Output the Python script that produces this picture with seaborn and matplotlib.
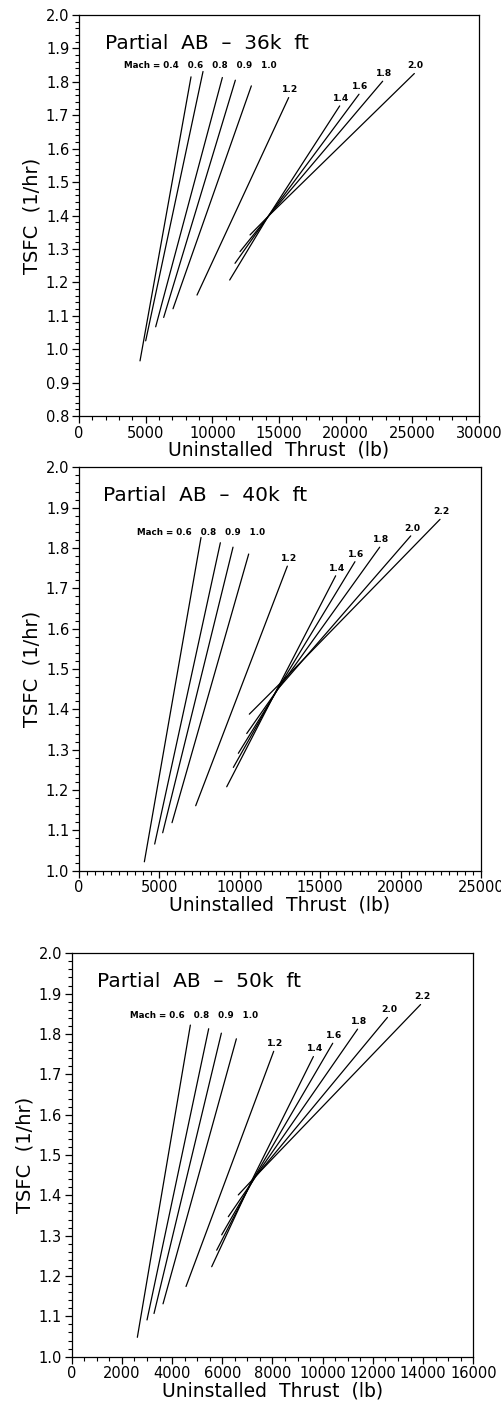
import matplotlib
matplotlib.use("Agg")
import matplotlib.pyplot as plt
from matplotlib.ticker import MultipleLocator, FormatStrFormatter
import seaborn as sns
import pandas as pd

# ---------------- data ----------------
titles = ["Partial  AB  \u2013  36k  ft", "Partial  AB  \u2013  40k  ft", "Partial  AB  \u2013  50k  ft"]

mach_36 = ["0.4", "0.6", "0.8", "0.9", "1.0", "1.2", "1.4", "1.6", "1.8", "2.0"]
thrust_36 = [[4575, 8400], [5000, 9300], [5750, 10750], [6350, 11725], [7050, 12925],
             [8850, 15725],
             [11300, 14150, 19550], [11700, 14200, 21000], [12075, 14250, 22775], [12825, 14300, 25150]]
tsfc_36 = [[0.965, 1.815], [1.025, 1.831], [1.067, 1.813], [1.095, 1.805], [1.121, 1.788],
           [1.162, 1.753],
           [1.207, 1.395, 1.728], [1.257, 1.398, 1.763], [1.292, 1.400, 1.802], [1.342, 1.402, 1.825]]

mach_40 = ["0.6", "0.8", "0.9", "1.0", "1.2", "1.4", "1.6", "1.8", "2.0", "2.2"]
thrust_40 = [[4063, 7587], [4706, 8790], [5203, 9577], [5784, 10552], [7256, 12956],
             [9185, 12250, 15960], [9597, 12300, 17160], [9908, 12350, 18700],
             [10430, 12400, 20630], [10591, 12450, 22450]]
tsfc_40 = [[1.022, 1.826], [1.066, 1.813], [1.094, 1.802], [1.119, 1.785], [1.161, 1.755],
           [1.208, 1.445, 1.731], [1.256, 1.447, 1.766], [1.291, 1.449, 1.802],
           [1.340, 1.452, 1.830], [1.388, 1.462, 1.871]]

mach_50 = ["0.6", "0.8", "0.9", "1.0", "1.2", "1.4", "1.6", "1.8", "2.0", "2.2"]
thrust_50 = [[2616, 4728], [3001, 5458], [3280, 5963], [3639, 6561], [4555, 8048],
             [5578, 7200, 9630], [5777, 7250, 10400], [5976, 7300, 11390],
             [6240, 7350, 12580], [6638, 7400, 13900]]
tsfc_50 = [[1.048, 1.822], [1.091, 1.813], [1.107, 1.802], [1.131, 1.788], [1.174, 1.757],
           [1.223, 1.440, 1.744], [1.264, 1.442, 1.777], [1.302, 1.445, 1.812],
           [1.347, 1.448, 1.841], [1.401, 1.452, 1.873]]

n_left = [5, 4, 4]  # number of subsonic lines labelled on one row

x_limits = [(0, 30000), (0, 25000), (0, 16000)]
x_major = [5000, 5000, 2000]
x_minor = [1000, 500, 500]
y_limits = [(0.8, 2.0), (1.0, 2.0), (1.0, 2.0)]

panels = [(mach_36, thrust_36, tsfc_36), (mach_40, thrust_40, tsfc_40), (mach_50, thrust_50, tsfc_50)]

# ---------------- style ----------------
sns.set_style("ticks")
plt.rcParams["font.family"] = ["DejaVu Sans"]
plt.rcParams["text.color"] = "black"
plt.rcParams["axes.labelcolor"] = "black"
plt.rcParams["xtick.color"] = "black"
plt.rcParams["ytick.color"] = "black"

fig = plt.figure(figsize=(5.02, 14.05), dpi=100)
rects = [[0.1574, 0.7039, 0.7968, 0.2854],
         [0.1574, 0.3803, 0.8008, 0.2871],
         [0.1428, 0.0344, 0.8000, 0.2871]]
left_label_pos = [(0.112, 0.873), (0.143, 0.838), (0.144, 0.847)]
title_pos = [(0.065, 0.929), (0.060, 0.931), (0.062, 0.930)]

for i, (machs, thr, tsfc) in enumerate(panels):
    ax = fig.add_axes(rects[i])
    rows = []
    for m, xs, ys in zip(machs, thr, tsfc):
        for k, (xv, yv) in enumerate(zip(xs, ys)):
            rows.append({"mach": m, "order": k, "thrust": xv, "tsfc": yv})
    df = pd.DataFrame(rows)
    sns.lineplot(data=df, x="thrust", y="tsfc", units="mach", estimator=None,
                 sort=False, color="black", lw=0.9, ax=ax, legend=False)

    # labels above top ends for the remaining lines
    for m, xs, ys in list(zip(machs, thr, tsfc))[n_left[i]:]:
        ax.annotate(m, (xs[-1], ys[-1]), xytext=(1, 5.5), textcoords="offset points",
                    ha="center", va="center", fontsize=6.6, fontweight="bold")
    row = "Mach = " + "   ".join(machs[:n_left[i]])
    ax.text(left_label_pos[i][0], left_label_pos[i][1], row, transform=ax.transAxes,
            ha="left", va="center", fontsize=6.3, fontweight="bold")
    ax.text(title_pos[i][0], title_pos[i][1], titles[i], transform=ax.transAxes,
            ha="left", va="center", fontsize=14.5)

    ax.set_xlim(*x_limits[i])
    ax.set_ylim(*y_limits[i])
    ax.xaxis.set_major_locator(MultipleLocator(x_major[i]))
    ax.xaxis.set_minor_locator(MultipleLocator(x_minor[i]))
    ax.yaxis.set_major_locator(MultipleLocator(0.1))
    ax.yaxis.set_minor_locator(MultipleLocator(0.02))
    ax.yaxis.set_major_formatter(FormatStrFormatter("%.1f"))
    ax.xaxis.set_major_formatter(FormatStrFormatter("%d"))
    ax.tick_params(which="major", direction="out", length=5, width=0.9, labelsize=10.5,
                   color="black", labelcolor="black", pad=2)
    ax.tick_params(which="minor", direction="out", length=3, width=0.8, color="black")
    for s in ax.spines.values():
        s.set_visible(True)
        s.set_linewidth(0.9)
        s.set_color("black")
    ax.set_xlabel("Uninstalled  Thrust  (lb)", fontsize=13.5, labelpad=0, color="black")
    ax.set_ylabel("TSFC  (1/hr)", fontsize=14, labelpad=3, color="black")
    ax.set_facecolor("white")

fig.savefig("out.png", dpi=100, facecolor="white")
